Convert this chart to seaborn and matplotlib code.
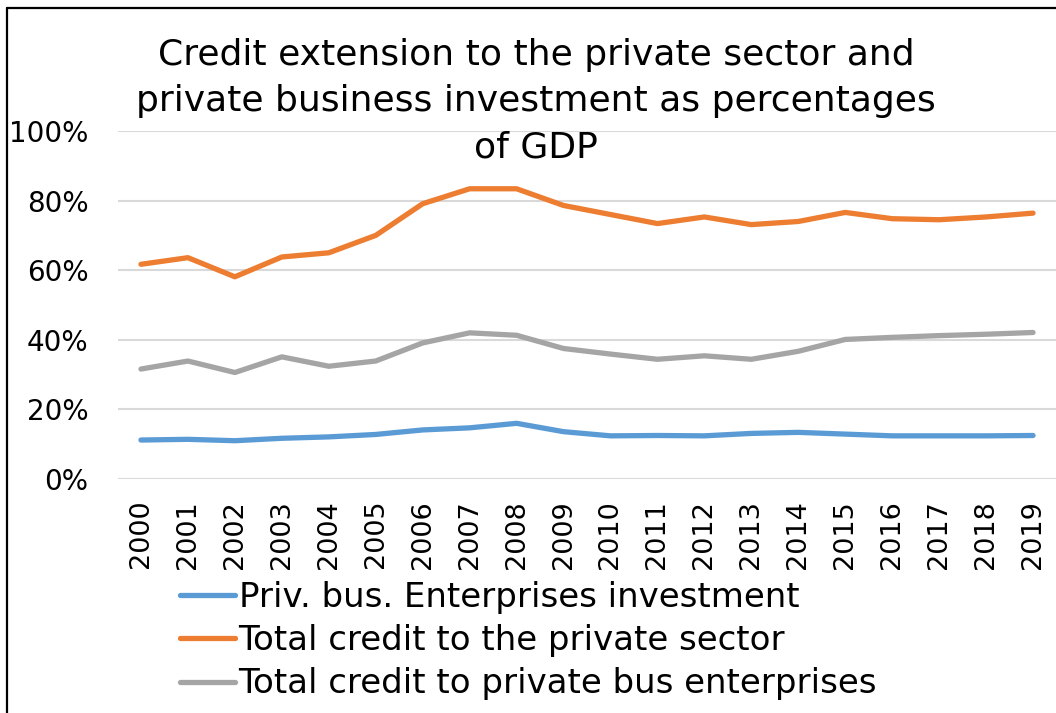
import matplotlib
matplotlib.use("Agg")
import matplotlib.pyplot as plt
import matplotlib.lines as mlines
import seaborn as sns
import pandas as pd
from matplotlib.ticker import PercentFormatter

years = list(range(2000, 2020))

priv_bus_investment = [11.2, 11.4, 11.0, 11.7, 12.1, 12.8, 14.1, 14.7, 16.0, 13.6,
                       12.4, 12.5, 12.4, 13.1, 13.4, 12.9, 12.4, 12.4, 12.4, 12.5]
total_credit_private = [61.7, 63.6, 58.1, 63.8, 65.0, 70.0, 79.1, 83.4, 83.4, 78.6,
                        76.0, 73.4, 75.3, 73.1, 74.0, 76.6, 74.8, 74.5, 75.3, 76.4]
credit_bus_enterprises = [31.6, 33.9, 30.6, 35.1, 32.4, 33.9, 39.1, 42.0, 41.3, 37.5,
                          35.9, 34.4, 35.4, 34.4, 36.7, 40.1, 40.7, 41.2, 41.6, 42.1]

series_names = ["Priv. bus. Enterprises investment",
                "Total credit to the private sector",
                "Total credit to private bus enterprises"]
series_colors = ["#5B9BD5", "#ED7D31", "#A5A5A5"]

title_text = ("Credit extension to the private sector and\n"
              "private business investment as percentages\n"
              "of GDP")

frames = []
for name, vals in zip(series_names,
                      [priv_bus_investment, total_credit_private, credit_bus_enterprises]):
    frames.append(pd.DataFrame({"year": years, "value": vals, "series": name}))
df = pd.concat(frames, ignore_index=True)

sns.set_theme(style="white")
plt.rcParams["font.family"] = ["DejaVu Sans"]
plt.rcParams["text.color"] = "#000000"

fig = plt.figure(figsize=(10.56, 7.13), dpi=100)
ax = fig.add_axes([117.5 / 1056, 1 - 479 / 713, (1056.5 - 117.5) / 1056, (479 - 131) / 713])

palette = dict(zip(series_names, series_colors))
sns.lineplot(data=df, x="year", y="value", hue="series", hue_order=series_names,
             palette=palette, linewidth=3.8, legend=False, ax=ax,
             solid_capstyle="round", solid_joinstyle="round")

ax.set_xlim(1999.5, 2019.5)
ax.set_ylim(0, 100)
ax.set_yticks([0, 20, 40, 60, 80, 100])
ax.yaxis.set_major_formatter(PercentFormatter(decimals=0))
ax.set_xticks(years)
ax.set_xticklabels([str(y) for y in years], rotation=90, fontsize=19.5, color="#000000")
ax.tick_params(axis="y", labelsize=20, colors="#000000", pad=21, length=0)
ax.tick_params(axis="x", pad=15, length=0)
ax.grid(axis="y", color="#D9D9D9", linewidth=1.5)
ax.grid(axis="x", visible=False)
for side in ["top", "right", "left", "bottom"]:
    ax.spines[side].set_visible(False)
ax.set_xlabel("")
ax.set_ylabel("")
ax.set_axisbelow(True)

fig.text(536 / 1056, 1 - 101 / 713, title_text, ha="center", va="center",
         fontsize=26, linespacing=1.45, color="#000000")

handles = [mlines.Line2D([], [], color=c, linewidth=3.8, solid_capstyle="round")
           for c in series_colors]
leg = fig.legend(handles, series_names, loc="upper left",
                 bbox_to_anchor=(180 / 1056, 1 - 581 / 713), frameon=False,
                 fontsize=24.5, handlelength=1.62, handletextpad=0.1, labelspacing=0.3,
                 borderaxespad=0, borderpad=0)
for t in leg.get_texts():
    t.set_color("#000000")

# frame along the top and left of the figure
fig.add_artist(mlines.Line2D([7 / 1056, 7 / 1056], [0, 1 - 8 / 713],
                             transform=fig.transFigure, color="#000000", linewidth=1.6))
fig.add_artist(mlines.Line2D([7 / 1056, 1], [1 - 8 / 713, 1 - 8 / 713],
                             transform=fig.transFigure, color="#000000", linewidth=1.6))

fig.savefig("out.png", dpi=100, facecolor="white")
